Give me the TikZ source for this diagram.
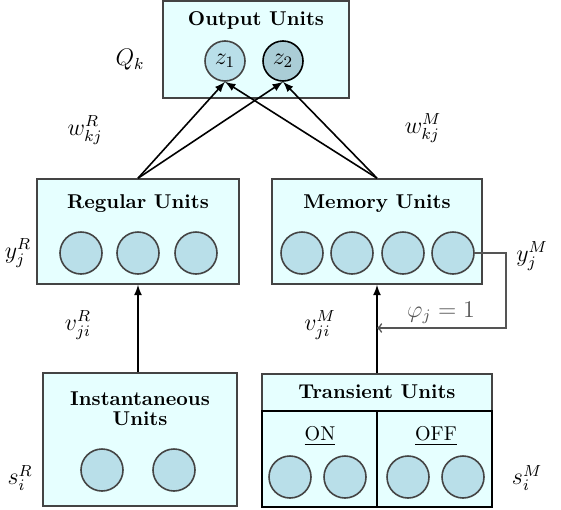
\documentclass[tikz,border=0pt]{standalone}
\usetikzlibrary{arrows,shapes,positioning}
\definecolor{boxfill}{HTML}{E6FFFF}
\definecolor{unitfill}{HTML}{B9DFE9}
\definecolor{edgegray}{HTML}{444444}
\definecolor{fbgray}{HTML}{555555}

\begin{document}
\begin{tikzpicture}[x=0.5pt,y=-0.5pt,
    layer/.style={draw=edgegray,fill=boxfill,thick,inner sep=0pt},
    half/.style={draw=black,fill=boxfill,line width=1pt,inner sep=0pt,minimum width=57.5pt,minimum height=48pt},
    unit/.style={circle,draw=edgegray,fill=unitfill,thick,minimum size=21pt,inner sep=0pt},
    title/.style={font=\bfseries},
    lab/.style={font=\large},
    conn/.style={-latex,thick}]
    \useasboundingbox (0,0) rectangle (561,509);
    % output layer
    \node[layer,minimum width=93pt,minimum height=48.5pt] (out) at (256,49.5) {};
    \node[title] (outt) at (256,20) {Output Units};
    \node[unit,minimum size=20pt,font=\large] (z1) at (225,61) {$z_1$};
    \node[unit,minimum size=20pt,font=\large,draw=black,fill=unitfill!92!black] (z2) at (283,61) {$z_2$};
    \node[lab] (q) at (130,60) {$Q_k$};
    % hidden layers
    \node[layer,minimum width=101pt,minimum height=52.5pt] (reg) at (138,231.5) {};
    \node[title] (regt) at (138,204) {Regular Units};
    \node[unit] (r1) at (81,253) {};
    \node[unit] (r2) at (138,253) {};
    \node[unit] (r3) at (196,253) {};
    \node[layer,minimum width=105pt,minimum height=52.5pt] (mem) at (377,231.5) {};
    \node[title] (memt) at (377,204) {Memory Units};
    \node[unit] (m1) at (302,253) {};
    \node[unit] (m2) at (352,253) {};
    \node[unit] (m3) at (403,253) {};
    \node[unit] (m4) at (453,253) {};
    \node[lab] (yr) at (18,253) {$y_j^R$};
    \node[lab] (ym) at (532,256) {$y_j^M$};
    \node[lab] (wr) at (85,130) {$w_{kj}^R$};
    \node[lab] (wm) at (423,128) {$w_{kj}^M$};
    % input layers
    \node[layer,minimum width=97pt,minimum height=66.5pt] (inst) at (140,439.5) {};
    \node[title,align=center] (instt) at (140,409) {Instantaneous\\[-2pt]Units};
    \node[unit] (i1) at (102,470) {};
    \node[unit] (i2) at (174,470) {};
    \node[layer,minimum width=115pt,minimum height=18.5pt] (trans) at (377,392.5) {};
    \node[title] (transt) at (377,392) {Transient Units};
    \node[half] (on) at (319.5,459) {};
    \node[half] (off) at (434.5,459) {};
    \node (ont) at (320,436) {\underline{ON}};
    \node (offt) at (436,436) {\underline{OFF}};
    \node[unit] (t1) at (290,477) {};
    \node[unit] (t2) at (345,477) {};
    \node[unit] (t3) at (408,477) {};
    \node[unit] (t4) at (463,477) {};
    \node[lab] (sr) at (20,478) {$s_i^R$};
    \node[lab] (sm) at (527,478) {$s_i^M$};
    \node[lab] (vr) at (78,325) {$v_{ji}^R$};
    \node[lab] (vm) at (320,325) {$v_{ji}^M$};
    % connections
    \draw[conn] (reg.north) -- (z1.south);
    \draw[conn] (reg.north) -- (z2.south);
    \draw[conn] (mem.north) -- (z1.south);
    \draw[conn] (mem.north) -- (z2.south);
    \draw[conn] (reg.south |- inst.north) -- (reg.south);
    \draw[conn] (trans.north) -- (mem.south);
    \coordinate (fb) at (377,328);
    \draw[fbgray,thick,-to] (m4.east) -- ++(31,0) |- (fb);
    \node[lab,text=fbgray] (phi) at (441,313) {$\varphi_j = 1$};
\end{tikzpicture}
\end{document}
